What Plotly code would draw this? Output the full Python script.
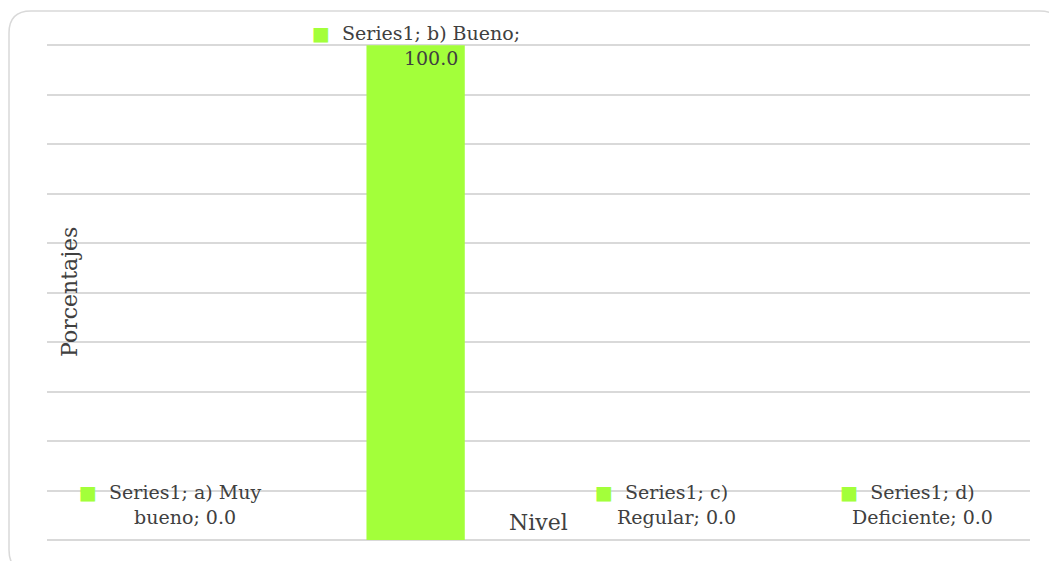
import textwrap
import plotly.graph_objects as go

# ---- data ----
categories = ["a) Muy bueno", "b) Bueno", "c) Regular", "d) Deficiente"]
values = [0.0, 100.0, 0.0, 0.0]
series_name = "Series1"
y_ticks = [0, 10, 20, 30, 40, 50, 60, 70, 80, 90, 100]
x_title = "Nivel"
y_title = "Porcentajes"

# ---- style ----
BAR = "#A3FF3A"
TEXT = "#404040"
GRID = "#D9D9D9"
FONT = "DejaVu Serif"
OFF = 8                      # default page body margin
W, H = 1057 - 2 * OFF, 569 - 2 * OFF
L, T = 47 - OFF, 44 - OFF
R = W - (1030 - OFF)
B = H - (540 - OFF)
wrap_widths = [15, 18, 12, 15]

fig = go.Figure(
    go.Bar(x=categories, y=values, marker_color=BAR, width=0.4,
           marker_line_width=0, hoverinfo="skip")
)

# data labels (with legend key squares)
for cat, val, ww in zip(categories, values, wrap_widths):
    full = f"{series_name}; {cat}; {val:.1f}"
    lines = textwrap.wrap(full, width=ww)
    key = f"<span style='color:{BAR}'>■</span>\u00a0 "
    ghost = "<span style='color:rgba(0,0,0,0)'>■</span>\u00a0 "
    txt = key + lines[0] + "".join("<br>" + ghost + ln for ln in lines[1:])
    fig.add_annotation(
        x=cat, y=val, xref="x", yref="y", text=txt, showarrow=False,
        xanchor="center", yanchor="middle", align="center",
        yshift=36 if val < 50 else 0,
        font=dict(family=FONT, size=19, color=TEXT),
    )

# axis titles placed inside plot area
fig.add_annotation(x=0.5, y=0, xref="paper", yref="paper", text=x_title,
                   showarrow=False, xanchor="center", yanchor="middle", yshift=18,
                   font=dict(family=FONT, size=22, color=TEXT))
fig.add_annotation(x=0, y=0.5, xref="paper", yref="paper", text=y_title,
                   showarrow=False, xanchor="center", yanchor="middle", xshift=22,
                   textangle=-90, font=dict(family=FONT, size=22, color=TEXT))

# rounded chart border (window pixel coords -> paper coords)
pw, ph = W - L - R, H - T - B
def px(x):
    return (x - OFF - L) / pw
def py(y):
    return (H - B - (y - OFF)) / ph
x0, x1, y0, y1, r = 9, 1062, 11, 572, 22
path = (f"M {px(x0+r)},{py(y0)} L {px(x1-r)},{py(y0)} "
        f"Q {px(x1)},{py(y0)} {px(x1)},{py(y0+r)} L {px(x1)},{py(y1-r)} "
        f"Q {px(x1)},{py(y1)} {px(x1-r)},{py(y1)} L {px(x0+r)},{py(y1)} "
        f"Q {px(x0)},{py(y1)} {px(x0)},{py(y1-r)} L {px(x0)},{py(y0+r)} "
        f"Q {px(x0)},{py(y0)} {px(x0+r)},{py(y0)} Z")
fig.add_shape(type="path", path=path, xref="paper", yref="paper",
              line=dict(color=GRID, width=1.5), layer="below")

fig.update_layout(
    width=W, height=H,
    margin=dict(l=L, r=R, t=T, b=B),
    paper_bgcolor="white", plot_bgcolor="white",
    showlegend=False,
    font=dict(family=FONT, color=TEXT),
    xaxis=dict(showticklabels=False, showgrid=False, zeroline=False,
               showline=False, ticks=""),
    yaxis=dict(range=[0, 100.25], tickvals=y_ticks, showticklabels=False,
               showgrid=True, gridcolor=GRID, gridwidth=2,
               zeroline=True, zerolinecolor=GRID, zerolinewidth=2,
               showline=False, ticks=""),
)

fig.write_html("out.html")
